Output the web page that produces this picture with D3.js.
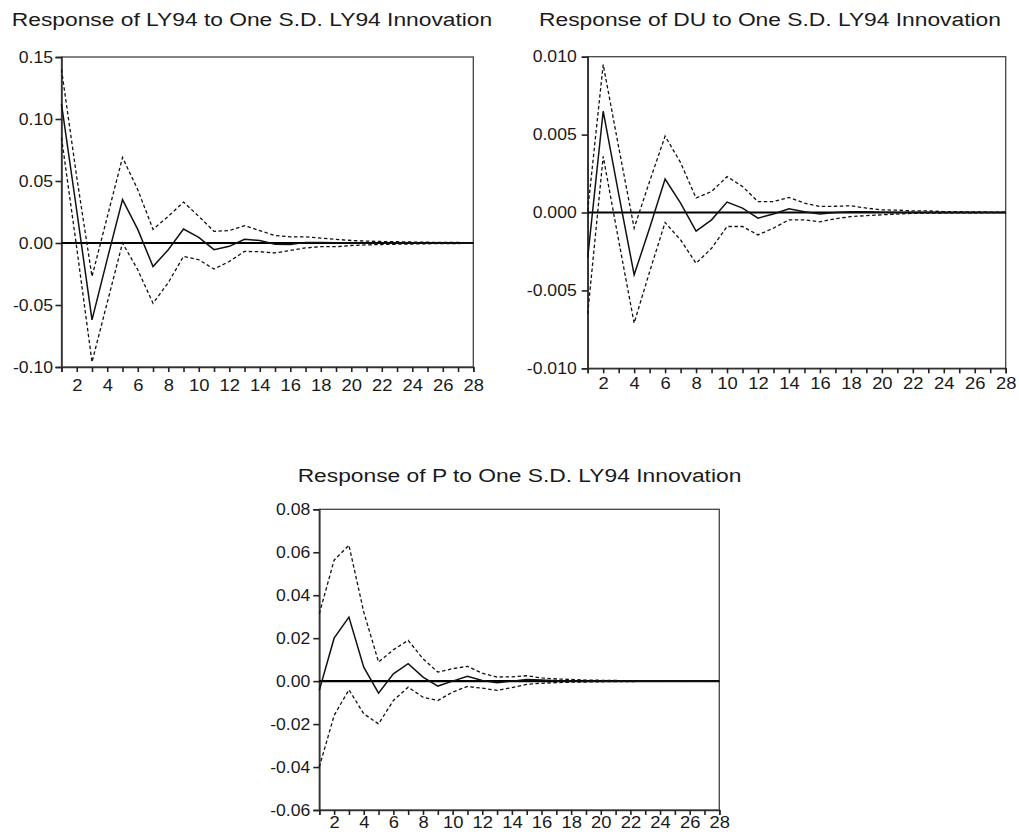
<!DOCTYPE html>
<html>
<head>
<meta charset="utf-8">
<script src="https://cdnjs.cloudflare.com/ajax/libs/d3/7.8.5/d3.min.js"></script>
<style>
  body { margin: 0; background: #fff; }
  svg { display: block; font-family: "Liberation Sans", Arial, sans-serif; }
</style>
</head>
<body>
<svg id="chart" width="1019" height="836"></svg>
<script>
// horizon (periods 1..28)
const periods = [1,2,3,4,5,6,7,8,9,10,11,12,13,14,15,16,17,18,19,20,21,22,23,24,25,26,27,28];

// Response of LY94 to LY94 shock
const ly94Resp  = [0.112, 0.026, -0.062, -0.013, 0.035, 0.011, -0.019, -0.0054, 0.0113, 0.0046, -0.0054, -0.0027, 0.003, 0.002, -0.001, -0.0012, 0.0005, 0.0005, 0.0002, 0.0001, -0.0002, -0.0001, 0.0001, 0.0001, 0, 0, 0, 0];
const ly94Upper = [0.140, 0.053, -0.027, 0.021, 0.069, 0.043, 0.011, 0.0215, 0.033, 0.0215, 0.0094, 0.010, 0.014, 0.010, 0.006, 0.005, 0.005, 0.004, 0.003, 0.002, 0.0015, 0.0012, 0.001, 0.0008, 0.0006, 0.0005, 0.0004, 0.0003];
const ly94Lower = [0.085, -0.004, -0.096, -0.048, 0.0, -0.0216, -0.0486, -0.032, -0.0108, -0.0135, -0.021, -0.0149, -0.0068, -0.007, -0.008, -0.006, -0.004, -0.003, -0.003, -0.002, -0.0015, -0.0012, -0.001, -0.0008, -0.0006, -0.0005, -0.0004, -0.0003];

// Response of DU
const duResp  = [-0.0029, 0.0065, 0.0012, -0.0040, -0.0010, 0.00215, 0.0006, -0.0012, -0.00047, 0.00067, 0.00028, -0.00036, -0.0001, 0.00024, 0.00005, -0.0001, 0.0, 0.00005, 0.00005, 0.00002, 0, 0, 0, 0, 0, 0, 0, 0];
const duUpper = [0.0001, 0.0095, 0.0042, -0.0010, 0.0020, 0.0049, 0.0032, 0.00093, 0.00135, 0.0023, 0.00167, 0.0007, 0.0007, 0.00097, 0.0006, 0.00039, 0.0004, 0.00043, 0.00028, 0.00017, 0.00015, 0.0001, 0.0001, 0.00006, 0.00005, 0.00004, 0.00003, 0.00002];
const duLower = [-0.0065, 0.0036, -0.0018, -0.0071, -0.0038, -0.00064, -0.00176, -0.00326, -0.0023, -0.0009, -0.0009, -0.00144, -0.001, -0.00047, -0.00047, -0.0006, -0.0004, -0.00026, -0.0002, -0.00015, -0.0001, -0.00005, -0.00004, -0.00003, -0.00002, -0.00002, -0.00001, -0.00001];

// Response of P
const pResp  = [-0.0043, 0.020, 0.0298, 0.0065, -0.0056, 0.0034, 0.0081, 0.0019, -0.0023, 0.0, 0.0023, 0.0003, -0.0008, 0.0, 0.0008, 0.0005, 0.0002, 0.0001, 0, 0, 0, 0, 0, 0, 0, 0, 0, 0];
const pUpper = [0.0314, 0.0563, 0.0633, 0.0322, 0.0089, 0.0146, 0.019, 0.0104, 0.0042, 0.0058, 0.0069, 0.0037, 0.0019, 0.002, 0.0025, 0.0015, 0.001, 0.0008, 0.0005, 0.0004, 0.0003, 0.0002, 0.0002, 0.0001, 0.0001, 0.0001, 0.0001, 0.0001];
const pLower = [-0.040, -0.016, -0.004, -0.0152, -0.0199, -0.009, -0.0028, -0.0075, -0.009, -0.0051, -0.0025, -0.0033, -0.0043, -0.003, -0.0015, -0.001, -0.0007, -0.0005, -0.0004, -0.0003, -0.0002, -0.0002, -0.0001, -0.0001, -0.0001, -0.0001, -0.0001, -0.0001];

// y ticks per panel
const ly94Ticks = [-0.10, -0.05, 0.00, 0.05, 0.10, 0.15];
const duTicks   = [-0.010, -0.005, 0.000, 0.005, 0.010];
const pTicks    = [-0.06, -0.04, -0.02, 0.00, 0.02, 0.04, 0.06, 0.08];

const titles = [
  "Response of LY94 to One S.D. LY94 Innovation",
  "Response of DU to One S.D. LY94 Innovation",
  "Response of P to One S.D. LY94 Innovation"
];

const svg = d3.select('#chart');
const TX = 1.2;   // text in the original is a bit wide

function drawPanel(p){
  const xScale = d3.scaleLinear().domain([1, 28]).range([p.x0, p.x1]);
  const yScale = d3.scaleLinear().domain(p.domain).range([p.y1, p.y0]);
  const g = svg.append('g');

  // title
  g.append('text')
    .attr('transform', `translate(${p.tx},${p.ty}) scale(${TX},1)`)
    .attr('text-anchor', 'middle')
    .attr('font-size', 19)
    .attr('fill', '#1a1a1a')
    .text(p.title);

  // frame
  g.append('rect')
    .attr('x', p.x0).attr('y', p.y0)
    .attr('width', p.x1 - p.x0).attr('height', p.y1 - p.y0)
    .attr('fill', 'none').attr('stroke', '#444').attr('stroke-width', 1.3);

  // y axis
  const yAxis = d3.axisLeft(yScale).tickValues(p.ticks).tickSize(6).tickFormat(d3.format(p.fmt));
  const ya = g.append('g').attr('transform', `translate(${p.x0},0)`).call(yAxis);
  ya.select('.domain').attr('stroke', '#333').attr('stroke-width', 1.6);
  ya.selectAll('.tick line').attr('stroke', '#222').attr('stroke-width', 1.6);
  ya.selectAll('.tick text')
    .attr('font-size', 16).attr('fill', '#1a1a1a').attr('font-family', null)
    .attr('x', null).attr('dy', null)
    .attr('transform', `translate(${p.ylab},0) scale(1.1,1)`)
    .attr('dominant-baseline', 'central')
    .text(d => d3.format(p.fmt)(d).replace('−', '-'));

  // x axis
  const xAxis = d3.axisBottom(xScale).tickValues(periods).tickSize(5)
    .tickFormat(d => d % 2 === 0 ? d : '');
  const xa = g.append('g').attr('transform', `translate(0,${p.y1})`).call(xAxis);
  xa.select('.domain').attr('stroke', '#333').attr('stroke-width', 1.6);
  xa.selectAll('.tick line').attr('stroke', '#222').attr('stroke-width', 1.6);
  xa.selectAll('.tick text')
    .attr('font-size', 16).attr('fill', '#1a1a1a').attr('font-family', null)
    .attr('y', null).attr('dy', null)
    .attr('transform', `translate(0,${p.xlab}) scale(1.15,1)`);

  // zero line
  g.append('line')
    .attr('x1', p.x0).attr('x2', p.x1)
    .attr('y1', yScale(0)).attr('y2', yScale(0))
    .attr('stroke', '#000').attr('stroke-width', 2.2);

  const line = d3.line().x((d, i) => xScale(periods[i])).y(d => yScale(d));

  [p.upper, p.lower].forEach(s => {
    g.append('path').datum(s)
      .attr('d', line)
      .attr('fill', 'none').attr('stroke', '#111')
      .attr('stroke-width', 1.3).attr('stroke-dasharray', '3.5,2.5');
  });
  g.append('path').datum(p.resp)
    .attr('d', line)
    .attr('fill', 'none').attr('stroke', '#111').attr('stroke-width', 1.5);
}

drawPanel({
  title: titles[0], tx: 252, ty: 26,
  x0: 61.5, x1: 473.3, y0: 57, y1: 367,
  domain: [-0.10, 0.15], ticks: ly94Ticks, fmt: '.2f', ylab: -8.5, xlab: 24,
  resp: ly94Resp, upper: ly94Upper, lower: ly94Lower
});
drawPanel({
  title: titles[1], tx: 770, ty: 26,
  x0: 587.7, x1: 1005.7, y0: 56.7, y1: 368.3,
  domain: [-0.010, 0.010], ticks: duTicks, fmt: '.3f', ylab: -11, xlab: 21,
  resp: duResp, upper: duUpper, lower: duLower
});
drawPanel({
  title: titles[2], tx: 519.5, ty: 482,
  x0: 319.3, x1: 719.3, y0: 509.3, y1: 810,
  domain: [-0.06, 0.08], ticks: pTicks, fmt: '.2f', ylab: -9, xlab: 18,
  resp: pResp, upper: pUpper, lower: pLower
});
</script>
</body>
</html>
